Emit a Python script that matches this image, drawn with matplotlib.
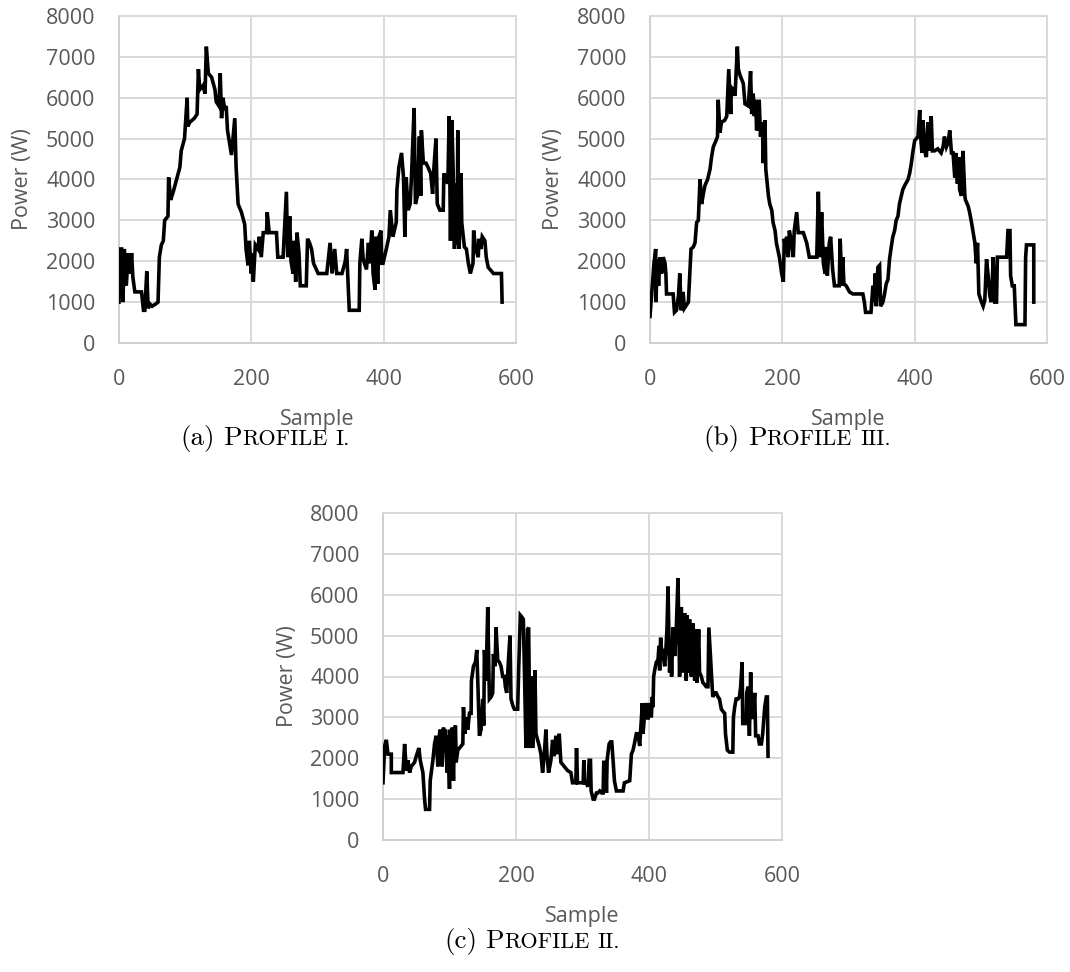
import matplotlib
matplotlib.use("Agg")
import matplotlib.pyplot as plt

# ---------------- data ----------------
x_ticks = [0, 200, 400, 600]
y_ticks = [0, 1000, 2000, 3000, 4000, 5000, 6000, 7000, 8000]

profile_i_sample = [0, 2, 4, 6, 8, 11, 14, 17, 19, 21, 24, 34, 37, 39, 42, 44, 47, 50, 55, 59,
                    61, 64, 67, 69, 74, 75, 78, 82, 87, 92, 94, 99, 103, 104, 107, 114, 118, 120, 122, 127,
                    130, 132, 135, 140, 145, 147, 151, 153, 155, 157, 160, 162, 164, 166, 170, 175, 177, 180, 185, 190,
                    192, 195, 197, 200, 201, 203, 206, 210, 212, 215, 218, 223, 224, 227, 238, 240, 248, 253, 255, 258,
                    260, 263, 265, 267, 269, 272, 274, 283, 285, 288, 291, 294, 301, 314, 319, 322, 326, 329, 337, 342,
                    344, 348, 363, 364, 367, 369, 374, 377, 379, 382, 384, 387, 388, 391, 393, 396, 397, 399, 404, 408,
                    410, 414, 419, 420, 423, 427, 430, 432, 434, 437, 440, 442, 446, 448, 451, 454, 456, 457, 460, 464,
                    467, 471, 474, 476, 479, 481, 485, 490, 491, 494, 497, 499, 501, 503, 505, 507, 509, 511, 512, 514,
                    517, 518, 522, 525, 528, 531, 535, 536, 539, 543, 544, 547, 549, 553, 555, 558, 566, 578, 579]
profile_i_power = [1000, 2300, 2300, 1000, 2300, 1400, 2200, 1700, 2200, 1600, 1250, 1250, 800, 800, 1750, 850, 950, 900, 950, 1000,
                   2100, 2400, 2500, 3000, 3100, 4050, 3500, 3700, 4000, 4300, 4700, 5000, 6000, 5300, 5400, 5500, 5600, 6700, 6200, 6300,
                   6100, 7250, 6600, 6500, 6200, 5900, 5800, 6600, 5500, 6000, 5700, 5800, 5200, 5000, 4600, 5500, 4300, 3400, 3200, 2900,
                   2300, 1900, 2500, 1700, 2200, 1500, 2400, 2300, 2600, 2100, 2700, 2700, 3200, 2700, 2700, 2100, 2100, 3700, 2100, 3100,
                   2000, 1700, 2500, 1500, 2700, 2200, 1400, 1400, 2550, 2450, 2300, 1950, 1700, 1700, 2450, 1700, 2300, 1700, 1700, 2000,
                   2300, 800, 800, 1950, 2550, 2050, 1800, 2450, 1950, 2750, 1700, 1300, 2600, 1450, 2600, 2750, 1950, 1950, 2300, 2600,
                   3250, 2600, 2950, 3750, 4300, 4650, 4050, 2600, 4050, 3250, 3400, 4050, 5750, 3400, 3600, 5050, 3600, 5200, 4400, 4400,
                   4300, 4150, 3650, 4300, 5000, 3400, 3250, 3250, 4150, 4000, 3900, 5550, 2500, 5450, 4250, 2300, 3900, 2400, 5200, 2300,
                   4150, 2950, 2350, 2300, 1950, 1700, 1950, 2750, 2300, 2100, 2550, 2300, 2600, 2500, 2100, 1850, 1700, 1700, 1000]

profile_iii_sample = [0, 2.5, 6, 8.6, 9, 11, 13, 15, 17.6, 20, 22.7, 24, 25, 35, 37, 40, 43, 45, 47, 49,
                      50, 52, 58, 60, 62, 65.5, 68, 70.5, 73, 75.6, 78, 80.6, 83, 87, 90.7, 93, 95.7, 99.7, 102, 103,
                      105.8, 108, 113, 116, 119, 122, 123, 126, 128.5, 132, 133.5, 136, 141, 143.6, 148.6, 152, 153.7, 156, 157.7, 160,
                      161, 163.7, 165, 167, 170, 171, 173.8, 175, 179, 181, 184, 186, 189, 191, 195.5, 199, 201.5, 203, 205, 206.5,
                      209, 210.6, 214, 216.6, 218, 221.7, 224, 229, 231.7, 236.8, 240.8, 252, 254.4, 257, 259.4, 262, 264.6, 266, 268, 271,
                      273, 276, 278.8, 286, 287.4, 290, 291.4, 293, 296.5, 301.5, 306.6, 321.7, 324, 325.8, 334, 336.9, 338.4, 340.4, 342, 344.4,
                      347, 348.5, 352, 354.5, 357, 359.6, 362, 364.6, 367, 369.7, 372, 374.7, 377, 379.8, 382, 384.8, 390, 392.4, 395, 397.5,
                      400, 402.5, 405, 407.6, 409, 411, 412.6, 415, 417.7, 420, 422.7, 425, 426.8, 430, 435, 440, 443, 445, 448, 450.5,
                      453, 455.6, 458, 460.6, 462, 464.6, 466.7, 468, 470.7, 473, 475.8, 476.8, 480.8, 483, 485.9, 488, 491, 493, 495, 497,
                      501, 503.5, 506, 508.6, 511, 513.6, 516, 518.7, 521, 523.7, 525, 528.8, 533.8, 536, 539, 541, 544, 545, 547.5, 550.5,
                      553, 566.7, 567.7, 569, 580, 580]
profile_iii_power = [650, 1200, 1950, 2300, 1000, 2050, 1400, 2100, 1700, 2100, 1950, 1700, 1200, 1200, 750, 800, 1150, 1700, 800, 1000,
                     1250, 850, 1000, 1650, 2300, 2350, 2450, 2950, 3000, 4000, 3400, 3650, 3850, 4000, 4250, 4550, 4800, 4950, 5050, 5950,
                     5150, 5400, 5450, 5550, 6700, 5600, 6250, 6200, 6050, 7250, 6700, 6550, 6350, 5850, 5800, 6650, 5600, 6100, 5550, 5950,
                     5200, 5400, 5950, 5050, 5400, 4400, 5450, 4250, 3600, 3400, 3250, 2950, 2750, 2450, 2100, 1700, 1500, 2550, 2200, 2600,
                     2100, 2750, 2450, 2100, 2750, 3200, 2700, 2700, 2700, 2450, 2100, 2100, 3700, 2100, 3200, 1950, 1700, 2350, 1650, 2450,
                     2600, 1800, 1400, 1400, 2550, 1400, 2100, 1450, 1400, 1250, 1200, 1200, 1000, 750, 750, 1400, 1000, 1700, 900, 1850,
                     1900, 900, 1000, 1200, 1450, 1550, 2050, 2350, 2600, 2750, 3000, 3100, 3400, 3600, 3750, 3850, 4000, 4150, 4400, 4700,
                     4950, 5000, 5050, 5700, 5050, 4650, 5450, 4700, 4550, 5400, 4700, 5550, 4700, 4700, 4750, 4650, 4800, 5050, 4800, 4900,
                     5200, 4650, 4650, 4050, 4650, 3900, 4550, 3750, 3600, 4700, 3600, 3500, 3350, 3200, 2950, 2750, 2450, 1950, 2450, 1200,
                     1000, 900, 1050, 2050, 1650, 1150, 1000, 2100, 1000, 1000, 2100, 2100, 2100, 2100, 2100, 2750, 2750, 1650, 1400, 1400,
                     450, 450, 2100, 2400, 2400, 1000]

profile_ii_sample = [0, 2.5, 5, 7.5, 12.5, 12.5, 30, 32.5, 35, 37.5, 40, 42.5, 47.5, 50, 54, 56, 60, 62.5, 64, 70,
                     71, 75, 77.5, 80, 82.5, 85, 86, 89, 91, 92.5, 94, 96.5, 97.5, 100, 101, 102.5, 104, 106, 107.5, 109,
                     110, 112.5, 117.5, 120, 121, 123, 126, 127.5, 130, 132.5, 133, 136, 139, 141, 142.5, 145, 147.5, 150, 151.5, 152.5,
                     155, 157.5, 160, 162.5, 165, 166, 168.5, 170, 172.5, 175, 177.5, 180, 182.5, 184, 186, 189, 191, 192.5, 195, 197.5,
                     202.5, 204, 206.5, 209, 211, 213, 215, 217.5, 219, 221, 222.5, 225, 227.5, 228.5, 230, 235, 237.5, 240, 242.5, 245,
                     246.5, 249, 252.5, 255, 257.5, 260, 262.5, 265, 267.5, 272.5, 277.5, 282.5, 285, 290, 291, 292.5, 296, 301, 302, 303,
                     306, 308, 310, 312, 313, 316, 318, 321, 323, 326, 329, 331, 332, 335, 336, 337, 340, 342, 344, 346,
                     348, 351, 361, 363, 371, 373.5, 376, 378, 381, 383.5, 386, 387.5, 390, 391, 393.5, 396, 398.5, 401, 403.5, 405,
                     406, 407, 408.5, 411, 413.5, 415, 416, 417.5, 419.5, 421, 423.6, 425, 427, 428.6, 431, 432.6, 434, 436, 438.6, 441,
                     443.6, 446, 448.6, 451, 453.6, 456, 457, 458.6, 461, 463.7, 466, 468.7, 471, 472, 474.7, 476, 478.7, 481, 483.7, 486,
                     488.7, 490, 492.7, 495, 496, 498.7, 501, 503.8, 506, 508.8, 511, 513.8, 515, 516, 517.8, 521, 526, 527, 528.8, 531,
                     533.8, 536, 537.8, 540, 541, 543.8, 546, 547, 548.9, 551, 552.9, 554, 556, 559, 560.4, 564, 566, 569, 571, 574,
                     576.4, 578, 579]
profile_ii_power = [1400, 2300, 2450, 2100, 2100, 1650, 1650, 2350, 1700, 1950, 1650, 1800, 1900, 2050, 2250, 1950, 1650, 1000, 750, 750,
                    1450, 1950, 2350, 2550, 1800, 2600, 2700, 1800, 2750, 2200, 2700, 1650, 2550, 1250, 2700, 1650, 2750, 1450, 2700, 2800,
                    1900, 2200, 2300, 2350, 3250, 2600, 3000, 2700, 3100, 3100, 3900, 4250, 4350, 4650, 3900, 2550, 2700, 3450, 2800, 4650,
                    3900, 5700, 3450, 3500, 3600, 4550, 4250, 5200, 4400, 4350, 4250, 4000, 4000, 3750, 3600, 4500, 5000, 3450, 3300, 3200,
                    3200, 4150, 5500, 5450, 5400, 3900, 2250, 5150, 5200, 2250, 4000, 2250, 3250, 4150, 2600, 2300, 2100, 1650, 2100, 2700,
                    2100, 1650, 1950, 2450, 2050, 2550, 2100, 2600, 1900, 1800, 1700, 1650, 1400, 1400, 2250, 1400, 1400, 1400, 1950, 1400,
                    1400, 1300, 1950, 1950, 1200, 1000, 1000, 1150, 1150, 1200, 1150, 1150, 1900, 1900, 1150, 1950, 2350, 2400, 2400, 1950,
                    1450, 1200, 1200, 1400, 1450, 2100, 2200, 2350, 2600, 2600, 2300, 2700, 3350, 2600, 3100, 3350, 2950, 3350, 3000, 3500,
                    3250, 4000, 4150, 4350, 4400, 4750, 4150, 4950, 4500, 4550, 4250, 4550, 5150, 6200, 4100, 4900, 4000, 5200, 4500, 5150,
                    6400, 4000, 5700, 4100, 5550, 3900, 5500, 4100, 5400, 4000, 5300, 3900, 5150, 3850, 5150, 4100, 4000, 3850, 3800, 3750,
                    3750, 5200, 4400, 3750, 3500, 3600, 3600, 3500, 3450, 3200, 3150, 3100, 2600, 2450, 2200, 2150, 2150, 3000, 3250, 3450,
                    3450, 3500, 3750, 4350, 2850, 2850, 2850, 3600, 3750, 2550, 4100, 3000, 3000, 3600, 2550, 2550, 2350, 2350, 2600, 3250,
                    3500, 3500, 2050]

panels = [
    # (samples, powers, axes rect in px: left, top, right, bottom, caption label, caption roman, caption centre x, caption baseline y)
    (profile_i_sample, profile_i_power, (119, 16, 516, 343), "(a)", "I.", 265, 445),
    (profile_iii_sample, profile_iii_power, (650, 16, 1047, 343), "(b)", "III.", 797, 445),
    (profile_ii_sample, profile_ii_power, (383, 513, 782, 840), "(c)", "II.", 532, 948),
]

W, H = 1070, 972
fig = plt.figure(figsize=(W / 100, H / 100), dpi=100)

def fx(px):
    return px / W

def fy(py):
    return 1 - py / H

TICK_FONT = "Open Sans"
GRAY = "#595959"
GRID = "#d9d9d9"

cap_items = []
for xs, ys, (l, t, r, b), lab, roman, ccx, cby in panels:
    ax = fig.add_axes([fx(l), fy(b), (r - l) / W, (b - t) / H])
    ax.plot(xs, ys, color="black", lw=2.6, solid_joinstyle="miter", zorder=3)
    ax.set_xlim(0, 600)
    ax.set_ylim(0, 8000)
    ax.set_xticks(x_ticks)
    ax.set_yticks(y_ticks)
    ax.grid(True, color=GRID, lw=1.4, zorder=0)
    ax.set_axisbelow(True)
    for s in ax.spines.values():
        s.set_color(GRID)
        s.set_linewidth(1.4)
    ax.spines["left"].set_color("#cfcfcf")
    ax.spines["bottom"].set_color("#cfcfcf")
    ax.tick_params(length=0, labelsize=15.5, labelcolor=GRAY, pad=17)
    for lbl in ax.get_xticklabels() + ax.get_yticklabels():
        lbl.set_fontfamily(TICK_FONT)
    ax.tick_params(axis="x", pad=19)
    # axis titles
    fig.text(fx(l - 96), fy((t + b) / 2), "Power (W)", rotation=90, ha="center", va="center",
             fontsize=15.5, color=GRAY, family=TICK_FONT)
    fig.text(fx((l + r) / 2), fy(b + 76), "Sample", ha="center", va="center",
             fontsize=15.5, color=GRAY, family=TICK_FONT)
    cap_items.append((lab, roman, ccx, cby))

# captions in small caps (Computer Modern)
fig.canvas.draw()
renderer = fig.canvas.get_renderer()
BIG = 19.5
SMALL = 16.0
for lab, roman, ccx, cby in cap_items:
    pieces = [(lab, BIG, 0), ("P", BIG, 8), ("ROFILE", SMALL, 0.5), (roman, SMALL, 8)]
    texts = []
    widths = []
    for s, size, gap in pieces:
        tx = fig.text(0, 0, s, fontsize=size, family="cmr10", color="black", va="baseline", ha="left")
        bb = tx.get_window_extent(renderer)
        texts.append((tx, gap))
        widths.append(bb.width)
    total = sum(widths) + sum(g for _, g in texts)
    xcur = ccx - total / 2
    for (tx, gap), w in zip(texts, widths):
        xcur += gap
        tx.set_position((fx(xcur), fy(cby)))
        xcur += w

fig.savefig("out.png", dpi=100)
